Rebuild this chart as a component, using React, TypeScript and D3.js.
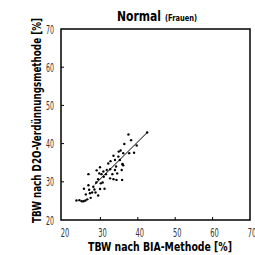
import React, { useEffect, useRef } from "react";
import * as d3 from "d3";

// BIA vs D2O (Frauen)
const bia = [
  23.6, 24.4, 25.0, 25.5, 26.0, 26.5, 25.6, 26.8, 26.8, 27.0, 26.1, 27.4, 27.8, 28.4, 28.9, 29.0,
  29.9, 29.7, 29.4, 28.7, 29.4, 29.9, 30.6, 31.1, 30.3, 30.9, 31.5, 32.1, 32.7, 32.6, 33.5, 33.2,
  33.9, 34.2, 32.6, 33.5, 34.3, 34.9, 35.4, 34.8, 36.1, 36.4, 35.9, 36.1, 35.7, 35.8, 37.5, 38.2,
  37.7, 39.0, 39.7, 42.5, 34.5, 31.7, 30.1, 28.1, 27.2, 30.8, 33.9, 35.2, 35.9,
];
const d2o = [
  25.1, 25.2, 24.9, 24.9, 25.1, 25.4, 28.2, 32.0, 29.1, 27.9, 26.7, 25.8, 27.2, 28.0, 29.8, 33.0,
  33.8, 32.2, 30.7, 27.2, 26.4, 28.1, 29.8, 28.2, 32.0, 31.3, 32.0, 34.8, 35.4, 33.3, 36.8, 32.0,
  35.7, 34.0, 30.9, 30.7, 30.5, 37.9, 38.2, 36.6, 37.5, 39.9, 34.7, 34.3, 33.1, 30.5, 42.4, 40.9,
  37.5, 37.6, 39.5, 42.9, 32.2, 33.1, 29.6, 28.7, 27.0, 32.7, 33.1, 35.7, 34.5,
];
const fitX = [28.5, 42.5];
const fitY = [29.3, 42.9];
const ticks = [20, 30, 40, 50, 60, 70];

const font = "'DejaVu Sans Condensed', 'Liberation Sans', sans-serif";

const App: React.FC = () => {
  const ref = useRef<SVGSVGElement | null>(null);

  useEffect(() => {
    if (!ref.current) return;
    const svg = d3.select(ref.current);
    svg.selectAll("*").remove();

    const x = d3.scaleLinear().domain([20, 70]).range([63, 250]);
    const y = d3.scaleLinear().domain([20, 70]).range([220, 29]);

    // frame
    svg.append("rect")
      .attr("x", 61).attr("y", 29)
      .attr("width", 250 - 61).attr("height", 220 - 29)
      .attr("fill", "none").attr("stroke", "#000").attr("stroke-width", 1.5);

    // inner ticks
    ticks.slice(1, -1).forEach(t => {
      svg.append("line")
        .attr("x1", 61).attr("x2", 64)
        .attr("y1", y(t)).attr("y2", y(t))
        .attr("stroke", "#000").attr("stroke-width", 1);
      svg.append("line")
        .attr("x1", x(t)).attr("x2", x(t))
        .attr("y1", 220).attr("y2", 217)
        .attr("stroke", "#000").attr("stroke-width", 1);
    });

    // tick labels (condensed digits)
    ticks.forEach(t => {
      svg.append("text")
        .attr("x", 54).attr("y", y(t) + 4.5)
        .attr("text-anchor", "end")
        .attr("font-family", font).attr("font-size", 12)
        .attr("textLength", 8).attr("lengthAdjust", "spacingAndGlyphs")
        .attr("fill", "#333")
        .text(t);
      svg.append("text")
        .attr("x", x(t) + 2).attr("y", 237)
        .attr("text-anchor", "middle")
        .attr("font-family", font).attr("font-size", 12)
        .attr("textLength", 8.5).attr("lengthAdjust", "spacingAndGlyphs")
        .attr("fill", "#333")
        .text(t);
    });

    // regression line
    svg.append("line")
      .attr("x1", x(fitX[0])).attr("y1", y(fitY[0]))
      .attr("x2", x(fitX[1])).attr("y2", y(fitY[1]))
      .attr("stroke", "#000").attr("stroke-width", 1);

    // points
    svg.append("g")
      .selectAll("circle")
      .data(bia)
      .join("circle")
      .attr("cx", d => x(d))
      .attr("cy", (_, i) => y(d2o[i]))
      .attr("r", 1.2)
      .attr("fill", "#000");

    // title
    svg.append("text")
      .attr("x", 117).attr("y", 21)
      .attr("font-family", font).attr("font-size", 14).attr("font-weight", "bold")
      .attr("textLength", 44).attr("lengthAdjust", "spacingAndGlyphs")
      .text("Normal");
    svg.append("text")
      .attr("x", 165).attr("y", 21)
      .attr("font-family", font).attr("font-size", 9).attr("font-weight", "bold")
      .attr("textLength", 32).attr("lengthAdjust", "spacingAndGlyphs")
      .text("(Frauen)");

    // axis titles
    svg.append("text")
      .attr("x", 88).attr("y", 251)
      .attr("font-family", font).attr("font-size", 12.5).attr("font-weight", "bold")
      .attr("textLength", 144).attr("lengthAdjust", "spacingAndGlyphs")
      .text("TBW nach BIA-Methode [%]");
    svg.append("text")
      .attr("transform", "translate(41,223) rotate(-90)")
      .attr("font-family", font).attr("font-size", 12.5).attr("font-weight", "bold")
      .attr("textLength", 205).attr("lengthAdjust", "spacingAndGlyphs")
      .text("TBW nach D2O-Verdünnungsmethode [%]");
  }, []);

  return (
    <svg
      ref={ref}
      width={255}
      height={255}
      style={{ position: "absolute", left: 0, top: 0, background: "#fff" }}
    />
  );
};

export default App;
